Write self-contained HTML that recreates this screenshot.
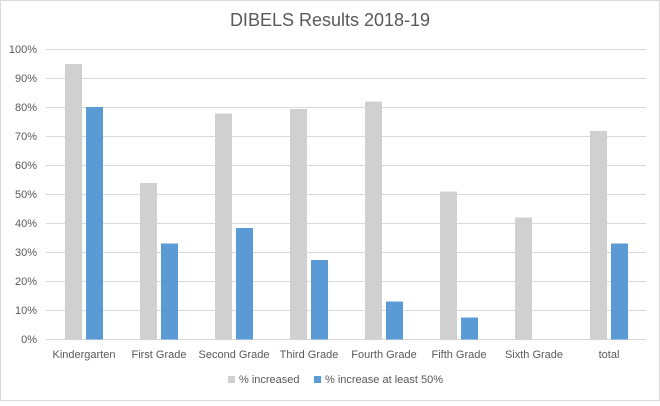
<!DOCTYPE html><html><head><style>body{margin:0;background:#fff}</style></head><body>
<svg width="660" height="401" xmlns="http://www.w3.org/2000/svg" font-family="Liberation Sans, sans-serif">
<rect x="0.5" y="0.5" width="659" height="400" fill="#fff" stroke="#d9d9d9"/>
<text x="330" y="26" font-size="18" fill="#595959" text-anchor="middle">DIBELS Results 2018-19</text>
<g stroke="#d9d9d9" stroke-width="1">
<line x1="46" x2="646" y1="49.5" y2="49.5"/><line x1="46" x2="646" y1="78.5" y2="78.5"/><line x1="46" x2="646" y1="107.5" y2="107.5"/><line x1="46" x2="646" y1="136.5" y2="136.5"/><line x1="46" x2="646" y1="165.5" y2="165.5"/><line x1="46" x2="646" y1="194.5" y2="194.5"/><line x1="46" x2="646" y1="223.5" y2="223.5"/><line x1="46" x2="646" y1="252.5" y2="252.5"/><line x1="46" x2="646" y1="281.5" y2="281.5"/><line x1="46" x2="646" y1="310.5" y2="310.5"/><line x1="46" x2="646" y1="339.5" y2="339.5"/>
</g>
<g font-size="11" fill="#595959" text-anchor="end">
<text x="37" y="53">100%</text><text x="37" y="82">90%</text><text x="37" y="111">80%</text><text x="37" y="140">70%</text><text x="37" y="169">60%</text><text x="37" y="198">50%</text><text x="37" y="227">40%</text><text x="37" y="256">30%</text><text x="37" y="285">20%</text><text x="37" y="314">10%</text><text x="37" y="343">0%</text>
</g>
<g fill="#d0d0d0">
<rect x="65" y="64" width="17" height="275.5"/>
<rect x="140" y="183" width="17" height="156.5"/>
<rect x="215" y="113.5" width="17" height="226"/>
<rect x="290" y="109" width="17" height="230.5"/>
<rect x="365" y="101.5" width="17" height="238"/>
<rect x="440" y="191.5" width="17" height="148"/>
<rect x="515" y="217.5" width="17" height="122"/>
<rect x="590" y="131" width="17" height="208.5"/>
</g>
<g fill="#5b9bd5">
<rect x="86" y="107" width="17" height="232.5"/>
<rect x="161" y="243.5" width="17" height="96"/>
<rect x="236" y="228" width="17" height="111.5"/>
<rect x="311" y="260" width="17" height="79.5"/>
<rect x="386" y="301.5" width="17" height="38"/>
<rect x="461" y="317.5" width="17" height="22"/>
<rect x="611" y="243.5" width="17" height="96"/>
</g>
<g font-size="11" fill="#595959" text-anchor="middle">
<text x="84" y="358">Kindergarten</text><text x="159" y="358">First Grade</text><text x="234" y="358">Second Grade</text><text x="309" y="358">Third Grade</text><text x="384" y="358">Fourth Grade</text><text x="459" y="358">Fifth Grade</text><text x="534" y="358">Sixth Grade</text><text x="609" y="358">total</text>
</g>
<rect x="228" y="376" width="7" height="7" fill="#d0d0d0"/>
<text x="239" y="383" font-size="11" fill="#595959">% increased</text>
<rect x="314" y="376" width="7" height="7" fill="#5b9bd5"/>
<text x="325" y="383" font-size="11" fill="#595959">% increase at least 50%</text>
</svg>
</body></html>
